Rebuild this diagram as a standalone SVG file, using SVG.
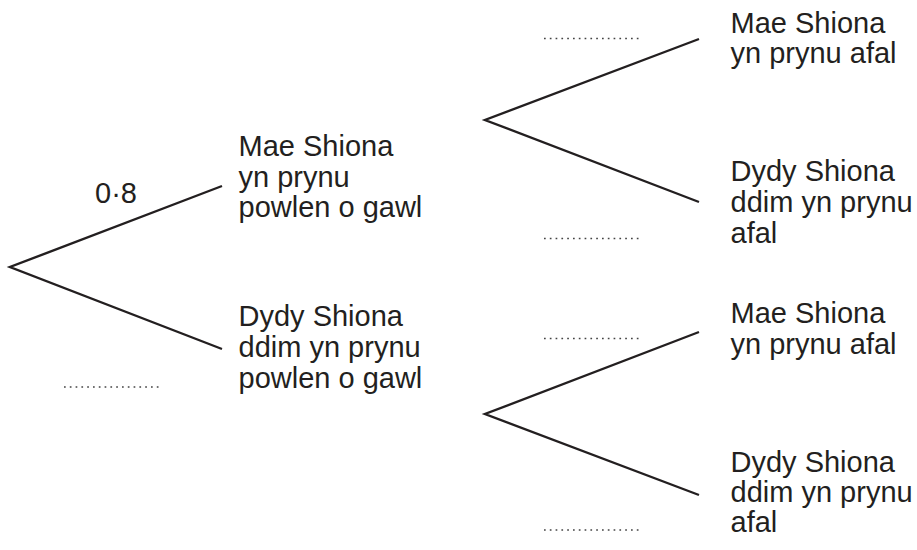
<svg xmlns="http://www.w3.org/2000/svg" width="917" height="550" viewBox="0 0 917 550">
<style>
text{font-family:"Liberation Sans",Arial,sans-serif;font-size:29px;fill:#231f20}
.br{stroke:#231f20;stroke-width:2.4;fill:none;stroke-linejoin:miter}
.dot{stroke:#444;stroke-width:1.7;stroke-dasharray:1.7 4.1;fill:none}
</style>
<rect width="917" height="550" fill="#fff"/>
<g id="connectors">
<polyline class="br" points="222,186 10,267 222,349"/>
<polyline class="br" points="699,39 485,120 699,202"/>
<polyline class="br" points="699,332 485,414 699,495"/>
</g>
<g id="answer-lines">
<line class="dot" x1="64" y1="387" x2="161" y2="387"/>
<line class="dot" x1="544" y1="38.5" x2="640" y2="38.5"/>
<line class="dot" x1="544" y1="238.5" x2="640" y2="238.5"/>
<line class="dot" x1="544" y1="338.5" x2="640" y2="338.5"/>
<line class="dot" x1="544" y1="530" x2="640" y2="530"/>
</g>
<g id="label-p1"><text x="95" y="203">0·8</text></g>
<g id="node-soup-yes">
<text x="238.5" y="156">Mae Shiona</text>
<text x="238.5" y="186.7">yn prynu</text>
<text x="238.5" y="217.4">powlen o gawl</text>
</g>
<g id="node-soup-no">
<text x="238.5" y="325.5">Dydy Shiona</text>
<text x="238.5" y="356.5">ddim yn prynu</text>
<text x="238.5" y="387.5">powlen o gawl</text>
</g>
<g id="node-apple-yes-1">
<text x="730.5" y="32.5">Mae Shiona</text>
<text x="730.5" y="63">yn prynu afal</text>
</g>
<g id="node-apple-no-1">
<text x="730.5" y="181">Dydy Shiona</text>
<text x="730.5" y="211.8">ddim yn prynu</text>
<text x="730.5" y="242.6">afal</text>
</g>
<g id="node-apple-yes-2">
<text x="730.5" y="323">Mae Shiona</text>
<text x="730.5" y="353.5">yn prynu afal</text>
</g>
<g id="node-apple-no-2">
<text x="730.5" y="471.5">Dydy Shiona</text>
<text x="730.5" y="502">ddim yn prynu</text>
<text x="730.5" y="532">afal</text>
</g>
</svg>
